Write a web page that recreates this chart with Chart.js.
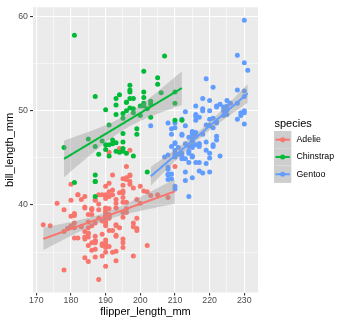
<!DOCTYPE html>
<html><head><meta charset="utf-8">
<script src="https://cdn.jsdelivr.net/npm/chart.js@4"></script>
<style>html,body{margin:0;padding:0;background:#fff}canvas{display:block}</style>
</head><body>
<canvas id="c" width="345" height="324"></canvas>
<script>
const speciesNames = ['Adelie', 'Chinstrap', 'Gentoo'];
const speciesColors = ['#F8766D', '#00BA38', '#619CFF'];
const xAxisTitle = 'flipper_length_mm';
const yAxisTitle = 'bill_length_mm';
const legendTitle = 'species';
const xTickValues = [170, 175, 180, 185, 190, 195, 200, 205, 210, 215, 220, 225, 230];
const yTickValues = [35, 40, 45, 50, 55, 60];

const adelieFlipper = [181,186,195,193,190,181,195,193,190,186,180,182,191,198,185,195,197,184,194,174,180,189,185,180,187,183,187,172,180,178,178,188,184,195,196,190,180,181,184,182,195,186,196,185,190,182,179,190,191,186,188,190,200,187,191,186,193,181,194,185,195,185,192,184,192,195,188,190,198,190,190,196,197,190,195,191,184,187,195,189,196,187,193,191,194,190,189,189,190,202,205,185,186,187,208,190,196,178,192,192,203,183,190,193,184,199,190,181,197,198,191,193,197,191,196,188,199,189,189,187,198,176,202,186,199,191,195,191,210,190,197,193,199,187,190,191,200,185,193,193,187,188,190,192,185,190,184,195,193,187,201];
const adelieBill = [39.1,39.5,40.3,36.7,39.3,38.9,39.2,34.1,42.0,37.8,37.8,41.1,38.6,34.6,36.6,38.7,42.5,34.4,46.0,37.8,37.7,35.9,38.2,38.8,35.3,40.6,40.5,37.9,40.5,39.5,37.2,39.5,40.9,36.4,39.2,38.8,42.2,37.6,39.8,36.5,40.8,36.0,44.1,37.0,39.6,41.1,37.5,36.0,42.3,39.6,40.1,35.0,42.0,34.5,41.4,39.0,40.6,36.5,37.6,35.7,41.3,37.6,41.1,36.4,41.6,35.5,41.1,35.9,41.8,33.5,39.7,39.6,45.8,35.5,42.8,40.9,37.2,36.2,42.1,34.6,42.9,36.7,35.1,37.3,41.3,36.3,36.9,38.3,38.9,35.7,41.1,34.0,39.6,36.2,40.8,38.1,40.3,33.1,43.2,35.0,41.0,37.7,37.8,37.9,39.7,38.6,38.2,38.1,43.2,38.1,45.6,39.7,42.2,39.6,42.7,38.6,37.3,35.7,41.1,36.2,37.7,40.2,41.4,35.2,40.6,38.8,41.5,39.0,44.1,38.5,43.1,36.8,37.5,38.1,41.1,35.6,40.2,37.0,39.7,40.2,40.6,32.1,40.7,37.3,39.0,39.2,36.6,36.0,37.8,36.0,41.5];

const chinstrapFlipper = [192,196,193,188,197,198,178,197,195,198,193,194,185,201,190,201,197,181,190,195,181,191,187,193,195,197,200,200,191,205,187,201,187,203,195,199,195,210,192,205,210,187,196,196,196,201,190,212,187,198,199,201,193,203,187,197,191,203,202,194,206,189,195,207,202,193,210,198];
const chinstrapBill = [46.5,50.0,51.3,45.4,52.7,45.2,46.1,51.3,46.0,51.3,46.6,51.7,47.0,52.0,45.9,50.5,50.3,58.0,46.4,49.2,42.4,48.5,43.2,50.6,46.7,52.0,50.5,49.5,46.4,52.8,40.9,54.2,42.5,51.0,49.7,47.5,47.6,52.0,46.9,53.5,49.0,46.2,50.9,45.5,50.9,50.8,50.1,49.0,51.5,49.8,48.1,51.4,45.7,50.7,42.5,52.2,45.2,49.3,50.2,45.6,51.9,46.8,45.7,55.8,43.5,49.6,50.8,50.2];

const gentooFlipper = [211,230,210,218,215,210,211,219,209,215,214,216,214,213,210,217,210,221,209,222,218,215,213,215,215,215,216,215,210,220,222,209,207,230,220,220,213,219,208,208,208,225,210,216,222,217,210,225,213,215,210,220,210,225,217,220,208,220,208,224,208,221,214,231,219,230,214,229,220,223,216,221,221,217,216,230,209,220,215,223,212,221,212,224,212,228,218,218,212,230,218,228,212,224,214,226,216,222,203,225,219,228,215,228,216,215,210,219,208,209,216,229,213,230,217,230,217,222,214,215,222,212,213];
const gentooBill = [46.1,50.0,48.7,50.0,47.6,46.5,45.4,46.7,43.3,46.8,40.9,49.0,45.5,48.4,45.8,49.3,42.0,49.2,46.2,48.7,50.2,45.1,46.5,46.3,42.9,46.1,44.5,47.8,48.2,50.0,47.3,42.8,45.1,59.6,49.1,48.4,42.6,44.4,44.0,48.7,42.7,49.6,45.3,49.6,50.5,43.6,45.5,50.5,44.9,45.2,46.6,48.5,45.1,50.1,46.5,45.0,43.8,45.5,43.2,50.4,45.3,46.2,45.7,54.3,45.8,49.8,46.2,49.5,43.5,50.7,47.7,46.4,48.2,46.5,46.4,48.6,47.5,51.1,45.2,45.2,49.1,52.5,47.4,50.0,44.9,50.8,43.4,51.3,47.5,52.1,47.5,52.2,45.5,49.5,44.5,50.8,49.4,46.9,48.4,51.1,48.5,55.9,47.2,49.1,47.3,46.8,41.7,53.4,43.3,48.1,50.5,49.8,43.5,51.5,46.2,55.1,44.5,48.8,47.2,46.8,50.4,45.2,49.9];

// 95% t quantiles for df = n - 2 of each group
const tQuantiles = [1.976, 1.997, 1.980];

const groups = [
  [adelieFlipper, adelieBill],
  [chinstrapFlipper, chinstrapBill],
  [gentooFlipper, gentooBill]
];

function lmFit(xs, ys, t) {
  const n = xs.length;
  const mx = xs.reduce((a, b) => a + b, 0) / n;
  const my = ys.reduce((a, b) => a + b, 0) / n;
  let sxx = 0, sxy = 0;
  for (let i = 0; i < n; i++) { sxx += (xs[i] - mx) ** 2; sxy += (xs[i] - mx) * (ys[i] - my); }
  const b = sxy / sxx, a = my - b * mx;
  let sse = 0;
  for (let i = 0; i < n; i++) sse += (ys[i] - a - b * xs[i]) ** 2;
  const s = Math.sqrt(sse / (n - 2));
  const xmin = Math.min(...xs), xmax = Math.max(...xs);
  const line = [], lo = [], hi = [];
  for (let i = 0; i < 80; i++) {
    const x = xmin + (xmax - xmin) * i / 79;
    const yh = a + b * x;
    const se = s * Math.sqrt(1 / n + (x - mx) ** 2 / sxx);
    line.push({x, y: yh});
    lo.push({x, y: yh - t * se});
    hi.push({x, y: yh + t * se});
  }
  return {line, lo, hi};
}

const datasets = [];
const pointOrder = [12, 10, 11];
groups.forEach((g, k) => {
  datasets.push({
    type: 'scatter', label: speciesNames[k],
    data: g[0].map((x, i) => ({x, y: g[1][i]})),
    backgroundColor: speciesColors[k], borderWidth: 0,
    pointRadius: 2.5, pointHoverRadius: 2.5, order: pointOrder[k]
  });
});
groups.forEach((g, k) => {
  const f = lmFit(g[0], g[1], tQuantiles[k]);
  datasets.push({
    type: 'line', data: f.hi, fill: '+1', backgroundColor: 'rgba(153,153,153,0.4)',
    borderWidth: 0, borderColor: 'rgba(0,0,0,0)', pointRadius: 0, order: 6 - k
  });
  datasets.push({
    type: 'line', data: f.lo, fill: false, borderWidth: 0, borderColor: 'rgba(0,0,0,0)',
    pointRadius: 0, order: 6 - k
  });
  datasets.push({
    type: 'line', data: f.line, fill: false, borderColor: speciesColors[k], borderWidth: 2,
    pointRadius: 0, order: 3 - k, tension: 0
  });
});

const panelBg = {
  id: 'panelBg',
  beforeDraw(chart) {
    const {ctx, chartArea: a} = chart;
    ctx.save();
    ctx.fillStyle = '#EBEBEB';
    ctx.fillRect(a.left, a.top, a.right - a.left, a.bottom - a.top);
    ctx.restore();
  }
};

const ggLegend = {
  id: 'ggLegend',
  afterDraw(chart) {
    const ctx = chart.ctx;
    ctx.save();
    ctx.font = '11px "Liberation Sans", Arial, sans-serif';
    ctx.fillStyle = '#000';
    ctx.textBaseline = 'middle';
    ctx.textAlign = 'left';
    ctx.fillText(legendTitle, 274.5, 124);
    const kx = 274, kw = 17.3, kh = 17.3, ky0 = 131;
    speciesNames.forEach((name, k) => {
      const y = ky0 + k * kh;
      ctx.fillStyle = '#F2F2F2';
      ctx.fillRect(kx, y, kw, kh);
      ctx.fillStyle = 'rgba(153,153,153,0.4)';
      ctx.fillRect(kx, y, kw, kh);
      const cy = y + kh / 2;
      ctx.strokeStyle = speciesColors[k];
      ctx.lineWidth = 2;
      ctx.beginPath(); ctx.moveTo(kx + 1.5, cy); ctx.lineTo(kx + kw - 1.5, cy); ctx.stroke();
      ctx.fillStyle = speciesColors[k];
      ctx.beginPath(); ctx.arc(kx + kw / 2, cy, 2.5, 0, Math.PI * 2); ctx.fill();
      ctx.fillStyle = '#000';
      ctx.font = '8.8px "Liberation Sans", Arial, sans-serif';
      ctx.fillText(name, 296.5, cy);
    });
    ctx.restore();
  }
};

const isMajor = v => Math.abs(v % 10) < 1e-9;

new Chart(document.getElementById('c'), {
  type: 'scatter',
  data: {datasets},
  plugins: [panelBg, ggLegend],
  options: {
    responsive: false, animation: false, events: [],
    layout: {padding: {top: 5, right: 87, left: 0, bottom: 0}},
    plugins: {legend: {display: false}, tooltip: {enabled: false}},
    scales: {
      x: {
        type: 'linear', min: 169.05, max: 233.95,
        afterBuildTicks: s => { s.ticks = xTickValues.map(v => ({value: v})); },
        afterFit: s => { s.height = 31.5; },
        border: {display: false},
        grid: {
          color: '#FFFFFF',
          lineWidth: c => (c.tick && isMajor(c.tick.value)) ? 1.1 : 0.55,
          tickColor: c => (c.tick && isMajor(c.tick.value)) ? '#333333' : 'rgba(0,0,0,0)',
          tickLength: 3, tickWidth: 1.1, drawOnChartArea: true
        },
        ticks: {
          autoSkip: false, maxRotation: 0, padding: 0, color: '#4D4D4D',
          font: {family: '"Liberation Sans", Arial, sans-serif', size: 8.8},
          callback: v => isMajor(v) ? String(v) : ''
        },
        title: {display: true, text: xAxisTitle, color: '#000', padding: {top: 0, bottom: 5},
          font: {family: '"Liberation Sans", Arial, sans-serif', size: 11}}
      },
      y: {
        type: 'linear', min: 30.725, max: 60.975,
        afterBuildTicks: s => { s.ticks = yTickValues.map(v => ({value: v})); },
        afterFit: s => { s.width = 33; },
        border: {display: false},
        grid: {
          color: '#FFFFFF',
          lineWidth: c => (c.tick && isMajor(c.tick.value)) ? 1.1 : 0.55,
          tickColor: c => (c.tick && isMajor(c.tick.value)) ? '#333333' : 'rgba(0,0,0,0)',
          tickLength: 3, tickWidth: 1.1
        },
        ticks: {
          autoSkip: false, padding: 2, color: '#4D4D4D',
          font: {family: '"Liberation Sans", Arial, sans-serif', size: 8.8},
          callback: v => isMajor(v) ? String(v) : ''
        },
        title: {display: true, text: yAxisTitle, color: '#000', padding: {top: 3.5, bottom: 0},
          font: {family: '"Liberation Sans", Arial, sans-serif', size: 11}}
      }
    }
  }
});
</script>
</body></html>
